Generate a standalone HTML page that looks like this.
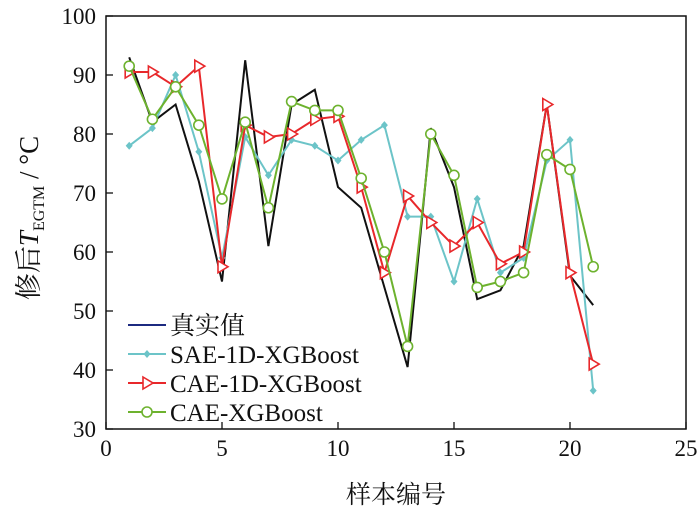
<!DOCTYPE html>
<html><head><meta charset="utf-8"><style>
body{margin:0;background:#fff}
svg text{font-family:"Liberation Serif","Noto Serif CJK SC",serif;fill:#111}
</style></head><body>
<svg id="chart" width="700" height="516" viewBox="0 0 700 516" xmlns="http://www.w3.org/2000/svg">
<g id="axes"></g><g id="series"></g><g id="legend"></g>
</svg>
<script>
const xTicks=[0,5,10,15,20,25];
const yTicks=[30,40,50,60,70,80,90,100];
const samples=[1,2,3,4,5,6,7,8,9,10,11,12,13,14,15,16,17,18,19,20,21];
const trueVals=[93,82,85,72,55,92.5,61,85,87.5,71,67.5,54,40.5,81,71,52,53.5,61,85,56,51];
const saeVals=[78,81,90,77,59,79.5,73,79,78,75.5,79,81.5,66,66,55,69,56.5,59,75.5,79,36.5];
const cae1dVals=[90.5,90.5,88,91.5,57.5,81.5,79.5,80,82.5,83,71,56.5,69.5,65,61,65,58,60,85,56.5,41];
const caeVals=[91.5,82.5,88,81.5,69,82,67.5,85.5,84,84,72.5,60,44,80,73,54,55,56.5,76.5,74,57.5];
const L=106,R=686,T=16,B=429;
const sx=v=>L+(v-0)/25*(R-L);
const sy=v=>B-(v-30)/70*(B-T);
const NS="http://www.w3.org/2000/svg";
function mk(tag,attrs,parent){const e=document.createElementNS(NS,tag);for(const k in attrs)e.setAttribute(k,attrs[k]);parent.appendChild(e);return e;}
const axes=document.getElementById('axes');
let frame=mk('rect',{x:L,y:T,width:R-L,height:B-T,fill:'none',stroke:'#111','stroke-width':1.5},axes);


xTicks.forEach(t=>{
 let l=mk('line',{x1:sx(t),x2:sx(t),y1:B,y2:B-7,stroke:'#111','stroke-width':1.3},axes);
 
 
 let tx=mk('text',{x:sx(t),y:B+27,'text-anchor':'middle','font-size':23},axes);tx.textContent=t;
 
 
});
yTicks.forEach(t=>{
 let l=mk('line',{x1:L,x2:L+7,y1:sy(t),y2:sy(t),stroke:'#111','stroke-width':1.3},axes);
 
 
 let tx=mk('text',{x:L-10,y:sy(t)+8,'text-anchor':'end','font-size':23},axes);tx.textContent=t;
 
 
});
let xt=mk('text',{x:396,y:503,'text-anchor':'middle','font-size':25},axes);xt.textContent='样本编号';


let yt=mk('text',{transform:'translate(38,218) rotate(-90)','text-anchor':'middle','font-size':27},axes);
yt.innerHTML='修后<tspan font-style="italic">T</tspan><tspan font-size="16" dy="6">EGTM</tspan><tspan dy="-6"> / °C</tspan>';


const ser=document.getElementById('series');
function marker(type,x,y,c,g){
 if(type==='d'){mk('path',{d:`M${x} ${y-4}L${x+3.5} ${y}L${x} ${y+4}L${x-3.5} ${y}Z`,fill:c},g);}
 else if(type==='t'){mk('path',{d:`M${x-4} ${y-6}L${x+6} ${y}L${x-4} ${y+6}Z`,fill:'#fff',stroke:c,'stroke-width':1.6},g);}
 else if(type==='o'){mk('circle',{cx:x,cy:y,r:5,fill:'#fff',stroke:c,'stroke-width':1.6},g);}
}
const defs=[[trueVals,'#111','',"true-value-series"],[saeVals,'#6cc4c8','d','sae-1d-xgboost-series'],[cae1dVals,'#e8282b','t','cae-1d-xgboost-series'],[caeVals,'#6db22e','o','cae-xgboost-series']];
defs.forEach(([vals,c,m,name])=>{
 const g=mk('g',{},ser);
 
 
 mk('polyline',{points:vals.map((v,i)=>sx(samples[i])+','+sy(v)).join(' '),fill:'none',stroke:c,'stroke-width':2},g);
 if(m)vals.forEach((v,i)=>marker(m,sx(samples[i]),sy(v),c,g));
});
const leg=document.getElementById('legend');
const items=[['真实值','#1c2a80',''],['SAE-1D-XGBoost','#6cc4c8','d'],['CAE-1D-XGBoost','#e8282b','t'],['CAE-XGBoost','#6db22e','o']];
items.forEach((it,i)=>{
 const y=325+i*29;
 const g=mk('g',{},leg);
 
 
 mk('line',{x1:128,x2:166,y1:y,y2:y,stroke:it[1],'stroke-width':2},g);
 if(it[2])marker(it[2],147,y,it[1],g);
 const t=mk('text',{x:170,y:y+9,'font-size':25},g);t.textContent=it[0];
});
</script>
</body></html>
